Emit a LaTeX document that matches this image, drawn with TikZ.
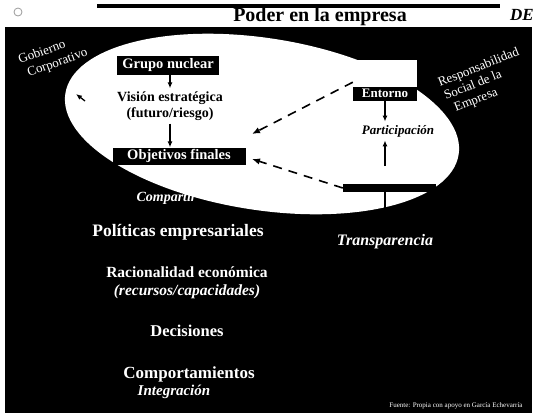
\documentclass[tikz,border=0pt]{standalone}
\usepackage{fontspec}
\setmainfont{Liberation Serif}
\usetikzlibrary{arrows.meta,positioning}
\definecolor{ink}{HTML}{000000}
\definecolor{paper}{HTML}{FFFFFF}
\definecolor{logoGrey}{HTML}{9A9A9A}
\tikzset{
    headbox/.style={
        fill=ink,
        text=paper,
        inner sep=0pt,
        font=\bfseries\fontsize{14.5}{16}\selectfont
    },
    flowtext/.style={
        text=ink,
        align=center,
        font=\bfseries\fontsize{14}{15.5}\selectfont
    },
    darktext/.style={
        text=paper,
        align=center,
        font=\bfseries\fontsize{16.5}{18}\selectfont
    },
    darknote/.style={
        text=paper,
        font=\bfseries\itshape\fontsize{14}{16}\selectfont
    },
    sidelabel/.style={
        text=paper,
        anchor=base west,
        inner sep=0pt,
        font=\fontsize{13}{14}\selectfont
    },
    flowarrow/.style={
        -{Latex[length=6pt,width=5pt]},
        draw=ink,
        line width=1.3pt
    },
    dasharrow/.style={
        -{Latex[length=8pt,width=6.5pt]},
        draw=ink,
        line width=1.6pt,
        dash pattern=on 9pt off 7pt
    }
}

\begin{document}
\begin{tikzpicture}[x=1pt,y=-1pt]
    \useasboundingbox (0,0) rectangle (535,413);
    \fill[paper] (0,0) rectangle (535,413);
    \fill[ink] (5,27) rectangle (532,413);

    % Header
    \draw[ink, line width=4pt] (97,6) -- (500,6);
    \node[font=\bfseries\fontsize{20}{22}\selectfont] (title) at (320,17) {Poder en la empresa};
    \node[font=\bfseries\itshape\fontsize{17}{19}\selectfont] (brand) at (522,15) {DE};
    \draw[logoGrey, line width=0.8pt] (18,12) circle[radius=4pt];

    % Power field
    \fill[paper, rotate around={-8.8:(262,124)}]
        (262,124) ellipse [x radius=199pt, y radius=86pt];

    % Internal column
    \node[headbox, minimum width=102pt, minimum height=19pt] (grupo) at (168,65) {Grupo nuclear};
    \node[flowtext] (vision) at (170,106) {Visión estratégica\\(futuro/riesgo)};
    \node[headbox, minimum width=133pt, minimum height=17pt] (objetivos) at (179,156) {Objetivos finales};
    \draw[flowarrow] (grupo.south -| vision.north) -- (vision.north);
    \draw[flowarrow] (vision.south) -- (vision.south |- objetivos.north);

    % External column
    \node[fill=paper, minimum width=64pt, minimum height=27pt, inner sep=0pt] (extbox) at (385,73.5) {};
    \node[headbox, minimum width=64pt, minimum height=14pt, font=\bfseries\fontsize{13}{14}\selectfont] (entorno) at (385,93.5) {Entorno};
    \node[text=ink, font=\bfseries\itshape\fontsize{13}{15}\selectfont] (part) at (398,131) {Participación};
    \node[fill=ink, minimum width=93pt, minimum height=8pt, inner sep=0pt] (bar) at (389.5,188) {};
    \coordinate (upfoot) at (385,166);
    \coordinate (barfoot) at (385,208);
    \draw[flowarrow] (entorno.south) -- (entorno.south |- part.north);
    \draw[flowarrow] (upfoot) -- (upfoot |- part.south);
    \draw[ink, line width=1.5pt] (bar.south -| barfoot) -- (barfoot);

    % Dashed influence arrows
    \coordinate (tipup) at (252,134);
    \coordinate (tiplow) at (252,159);
    \draw[dasharrow] ([yshift=5pt]extbox.south west) -- (tipup);
    \draw[dasharrow] (bar.west) -- (tiplow);

    % Side labels, one rotated node per line
    \node[sidelabel, rotate=20] (gob-1) at (20,64) {Gobierno};
    \node[sidelabel, rotate=20] (gob-2) at (29,77) {Corporativo};
    \coordinate (govtail) at (85,101);
    \coordinate (govtip) at (76,94);
    \draw[flowarrow] (govtail) -- (govtip);
    \node[sidelabel, rotate=22] (rse-1) at (440,87) {Responsabilidad};
    \node[sidelabel, rotate=22] (rse-2) at (446,100) {Social de la};
    \node[sidelabel, rotate=22] (rse-3) at (456,112) {Empresa};

    % Lower sequence
    \node[darknote, anchor=west] (compartir) at (133,198) {Compartir};
    \node[darktext, font=\bfseries\fontsize{17.5}{19}\selectfont] (politicas) at (178,232) {Políticas empresariales};
    \node[darknote, font=\itshape\bfseries\fontsize{16}{18}\selectfont] (transp) at (385,242) {Transparencia};
    \node[darktext, font=\bfseries\fontsize{15.5}{18}\selectfont] (racional) at (187,283)
        {Racionalidad económica\\\textit{(recursos/capacidades)}};
    \node[darktext] (decisiones) at (187,331) {Decisiones};
    \node[darktext, font=\bfseries\fontsize{17}{19}\selectfont] (comport) at (189,374) {Comportamientos};
    \node[darknote, font=\bfseries\itshape\fontsize{15}{17}\selectfont] (integra) at (174,392) {Integración};

    % Source
    \node[text=paper, font=\fontsize{7}{8}\selectfont] (fuente) at (456,406) {Fuente: Propia con apoyo en García Echevarría};
\end{tikzpicture}
\end{document}
